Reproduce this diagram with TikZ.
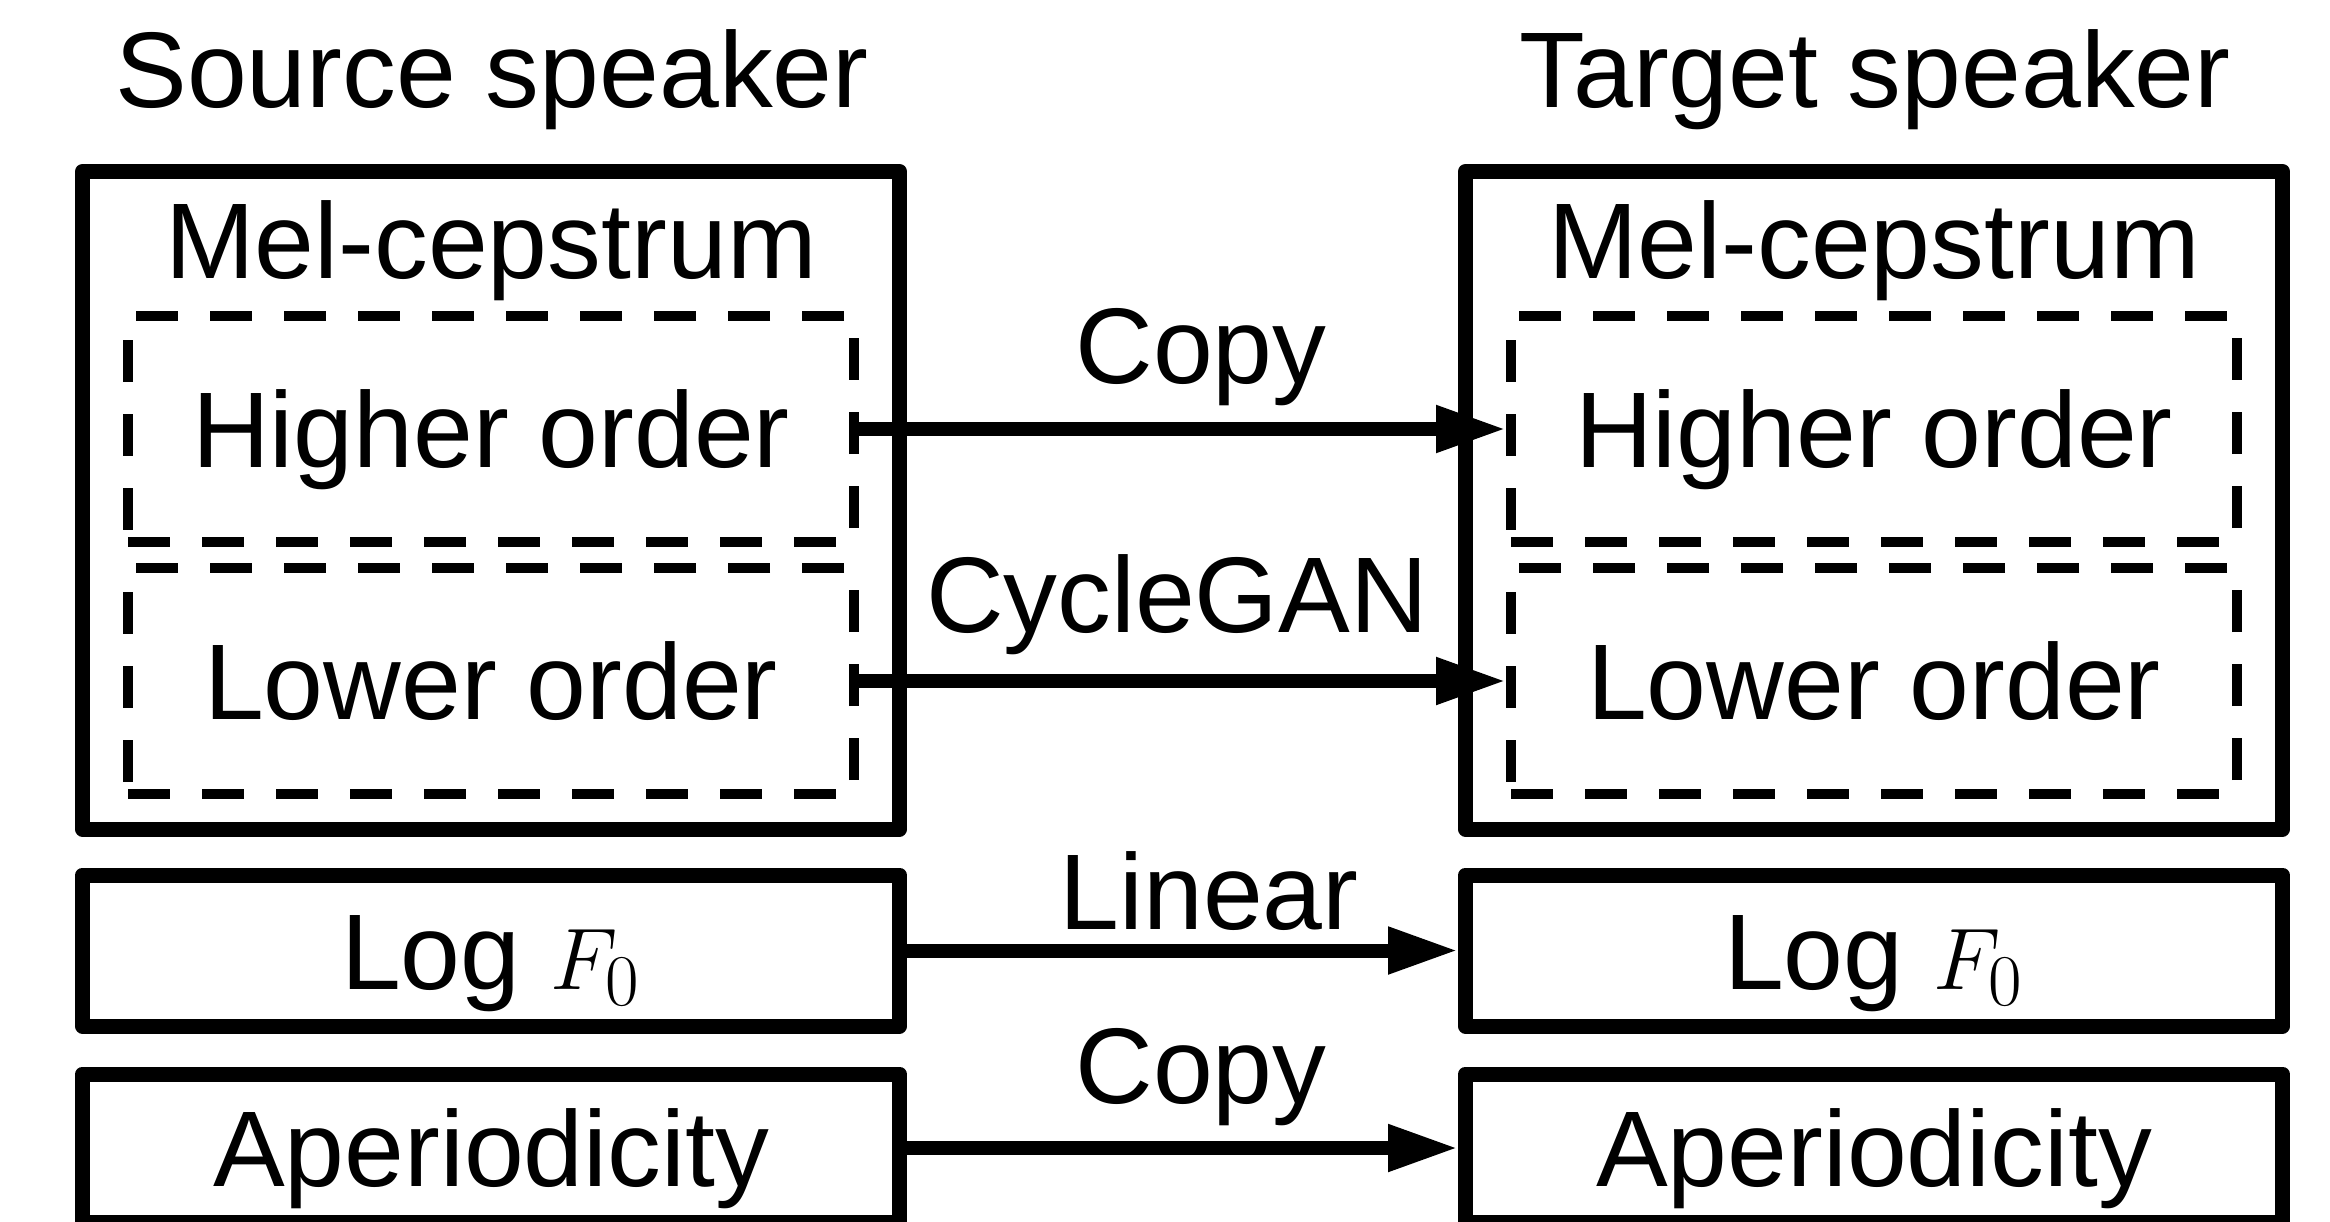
\documentclass[tikz,border=0pt]{standalone}
\usepackage{fontspec}
\setmainfont{Liberation Sans}
\usepackage{tikz}
\usetikzlibrary{calc,arrows.meta,positioning}
\tikzset{
  bigbox/.style={draw=black, line width=4.27pt, line join=round, inner sep=0pt,
    minimum width=8.17cm, minimum height=6.575cm},
  partbox/.style={draw=black, line width=2.85pt, dash pattern=on 0.42cm off 0.32cm,
    inner sep=0pt, minimum width=7.26cm, minimum height=2.26cm,
    text height=0.77cm, text depth=0pt},
  featbox/.style={draw=black, line width=4.27pt, line join=round, inner sep=0pt,
    minimum width=8.17cm, text height=0.77cm, text depth=0pt},
  arr/.style={draw=black, line width=3.98pt, -{Triangle[length=0.7cm,width=0.44cm]}},
  lbl/.style={text=black, font=\fontsize{30.6}{36}\selectfont}
}

\begin{document}
\begin{tikzpicture}[font=\fontsize{30.6}{36}\selectfont]
  \useasboundingbox (0,0) rectangle (23.3,-12.21);

  % headings
  \node[lbl, anchor=base] (srchead) at (4.92,-1.07) {Source speaker};
  \node[lbl, anchor=base] (tgthead) at (18.75,-1.07) {Target speaker};

  % mel-cepstrum
  \node[bigbox] (srcmcep) at (4.91,-5.0025) {};
  \node[bigbox] (tgtmcep) at (18.74,-5.0025) {};
  \node[lbl, anchor=base] (srcmel) at (4.91,-2.78) {Mel-cepstrum};
  \node[lbl, anchor=base] (tgtmel) at (18.74,-2.78) {Mel-cepstrum};

  \node[partbox] (srchigh) at (4.91,-4.29) {Higher order};
  \node[partbox] (srclow) at (4.91,-6.81) {Lower order};
  \node[partbox] (tgthigh) at (18.74,-4.29) {Higher order};
  \node[partbox] (tgtlow) at (18.74,-6.81) {Lower order};

  % F0 and aperiodicity
  \node[featbox, minimum height=1.51cm] (srcf0) at (4.91,-9.505) {Log $F_0$};
  \node[featbox, minimum height=1.51cm] (tgtf0) at (18.74,-9.505) {Log $F_0$};
  \node[featbox, minimum height=1.48cm] (srcap) at (4.91,-11.48) {Aperiodicity};
  \node[featbox, minimum height=1.48cm] (tgtap) at (18.74,-11.48) {Aperiodicity};

  \draw[arr] (srchigh.east) -- (tgthigh.west);
  \draw[arr] (srclow.east) -- (tgtlow.west);
  \draw[arr] (srcf0.east) -- (tgtf0.west);
  \draw[arr] (srcap.east) -- (tgtap.west);

  \node[lbl, anchor=base] (copyhigh) at (12.01,-3.83) {Copy};
  \node[lbl, anchor=base] (cyclegan) at (11.77,-6.32) {CycleGAN};
  \node[lbl, anchor=base] (linear) at (12.09,-9.29) {Linear};
  \node[lbl, anchor=base] (copyap) at (12.01,-11.03) {Copy};
\end{tikzpicture}
\end{document}
